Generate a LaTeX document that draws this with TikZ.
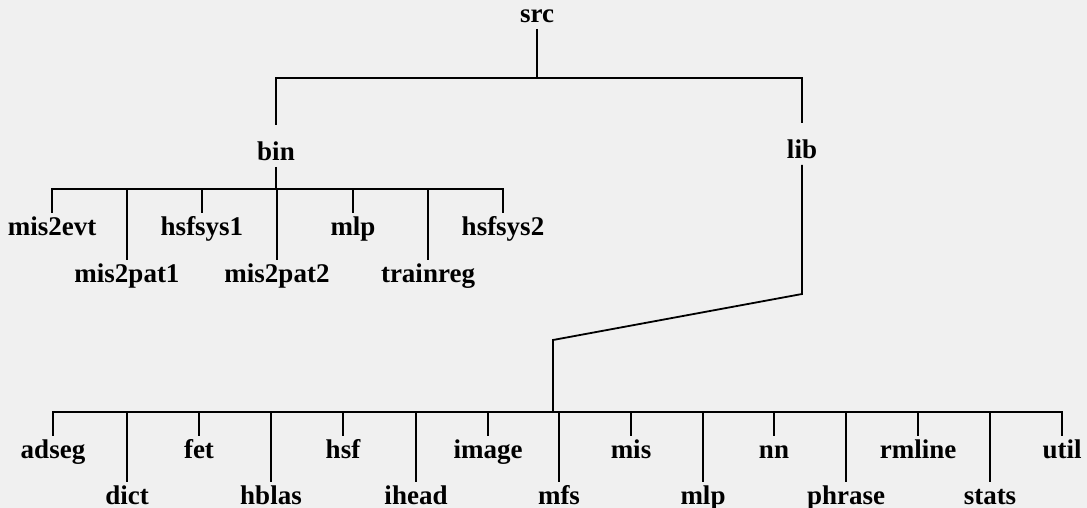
\documentclass[tikz,border=0pt]{standalone}
\usepackage{fontspec}
\setmainfont{Liberation Serif}

\begin{document}
\begin{tikzpicture}[x=0.5pt,y=-0.5pt,line width=0.9pt,
	every node/.style={font=\fontsize{13.5}{16}\selectfont\bfseries,
	inner sep=0pt,anchor=base,text height=10.5pt,text depth=0pt},
	dir/.style={text height=17.5pt,text depth=2.5pt}]
    \path[use as bounding box,fill=black!6] (0,0) rectangle (1087,508);
    % create the nodes
    \node (src) [dir] at (537,23) {src};
    \node (bin) [dir] at (276,161) {bin};
    \node (lib) [dir] at (802,159) {lib};
    \node (mis2evt) at (52,235) {mis2evt};
    \node (mis2pat1) at (127,282) {mis2pat1};
    \node (hsfsys1) at (202,235) {hsfsys1};
    \node (mis2pat2) at (277,282) {mis2pat2};
    \node (binmlp) at (353,235) {mlp};
    \node (trainreg) at (428,282) {trainreg};
    \node (hsfsys2) at (503,235) {hsfsys2};
    \node (adseg) at (53,458) {adseg};
    \node (dict) at (127,504) {dict};
    \node (fet) at (199,458) {fet};
    \node (hblas) at (271,504) {hblas};
    \node (hsf) at (343,458) {hsf};
    \node (ihead) at (416,504) {ihead};
    \node (image) at (488,458) {image};
    \node (mfs) at (559,504) {mfs};
    \node (mis) at (631,458) {mis};
    \node (libmlp) at (703,504) {mlp};
    \node (nn) at (774,458) {nn};
    \node (phrase) at (846,504) {phrase};
    \node (rmline) at (918,458) {rmline};
    \node (stats) at (990,504) {stats};
    \node (util) at (1062,458) {util};
    \coordinate (srcbar) at (537,78);
    \coordinate (binbar) at (276,189);
    \coordinate (libbend) at (802,294);
    \coordinate (libkink) at (553,340);
    \coordinate (libbar) at (553,412);
    % connect the nodes
    \draw (src) -- (srcbar);
    \draw (srcbar) -| (bin);
    \draw (srcbar) -| (lib);
    \draw (bin) -- (binbar);
    \draw (binbar) -| (mis2evt);
    \draw (binbar) -| (mis2pat1);
    \draw (binbar) -| (hsfsys1);
    \draw (binbar) -| (mis2pat2);
    \draw (binbar) -| (binmlp);
    \draw (binbar) -| (trainreg);
    \draw (binbar) -| (hsfsys2);
    \draw (lib) -- (libbend) -- (libkink) -- (libbar);
    \draw (libbar) -| (adseg);
    \draw (libbar) -| (dict);
    \draw (libbar) -| (fet);
    \draw (libbar) -| (hblas);
    \draw (libbar) -| (hsf);
    \draw (libbar) -| (ihead);
    \draw (libbar) -| (image);
    \draw (libbar) -| (mfs);
    \draw (libbar) -| (mis);
    \draw (libbar) -| (libmlp);
    \draw (libbar) -| (nn);
    \draw (libbar) -| (phrase);
    \draw (libbar) -| (rmline);
    \draw (libbar) -| (stats);
    \draw (libbar) -| (util);
\end{tikzpicture}
\end{document}
